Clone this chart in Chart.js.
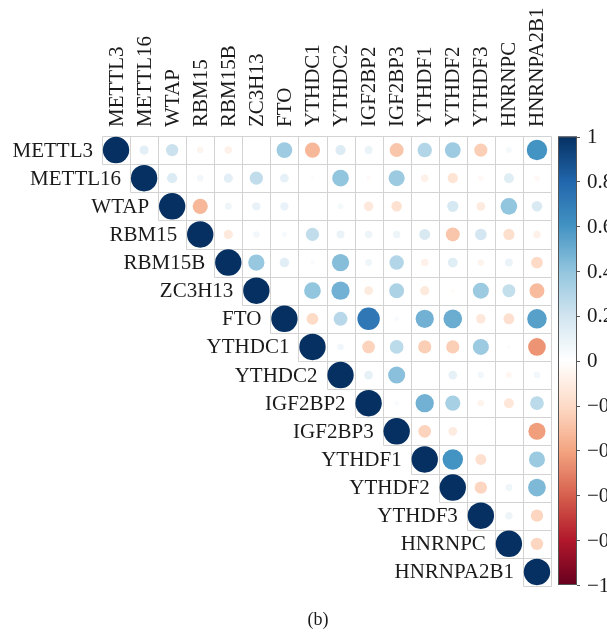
<!DOCTYPE html>
<html>
<head>
<meta charset="utf-8">
<script src="https://cdn.jsdelivr.net/npm/chart.js@4.4.1/dist/chart.umd.min.js"></script>
<style>
  html, body { margin: 0; padding: 0; background: #ffffff; }
  #wrap { width: 607px; height: 637px; position: relative; }
</style>
</head>
<body>
<div id="wrap"><canvas id="c"></canvas></div>
<script>
// Gene names (row and column order)
const genes = ['METTL3', 'METTL16', 'WTAP', 'RBM15', 'RBM15B', 'ZC3H13', 'FTO', 'YTHDC1',
  'YTHDC2', 'IGF2BP2', 'IGF2BP3', 'YTHDF1', 'YTHDF2', 'YTHDF3', 'HNRNPC', 'HNRNPA2B1'];

// Upper-triangle correlations, each row starting at its diagonal
const r_METTL3    = [1, 0.12, 0.22, -0.06, -0.08, 0.01, 0.36, -0.33, 0.15, 0.09, -0.28, 0.30, 0.36, -0.25, 0.05, 0.60];
const r_METTL16   = [1, 0.15, 0.06, 0.12, 0.25, 0.11, 0.02, 0.40, -0.03, 0.37, -0.08, -0.15, -0.04, 0.14, -0.04];
const r_WTAP      = [1, -0.33, 0.07, 0.10, 0.10, -0.01, 0.05, -0.13, -0.16, 0.01, 0.18, -0.11, 0.40, 0.16];
const r_RBM15     = [1, -0.12, 0.06, 0.04, 0.25, 0.09, 0.08, 0.08, 0.17, -0.28, 0.19, -0.18, -0.08];
const r_RBM15B    = [1, 0.38, 0.13, 0.03, 0.43, 0.07, 0.30, -0.08, 0.14, -0.06, 0.09, -0.20];
const r_ZC3H13    = [1, 0.01, 0.40, 0.48, -0.11, 0.32, -0.12, -0.02, 0.37, 0.24, -0.32];
const r_FTO       = [1, -0.20, 0.28, 0.72, 0.03, 0.48, 0.50, -0.13, -0.17, 0.55];
const r_YTHDC1    = [1, 0.06, -0.23, 0.27, -0.25, -0.25, 0.37, 0.02, -0.45];
const r_YTHDC2    = [1, 0.11, 0.42, 0.01, 0.11, 0.06, -0.05, 0.06];
const r_IGF2BP2   = [1, 0.03, 0.48, 0.33, -0.06, -0.14, 0.27];
const r_IGF2BP3   = [1, -0.23, -0.11, -0.01, 0.01, -0.42];
const r_YTHDF1    = [1, 0.60, -0.17, 0.01, 0.37];
const r_YTHDF2    = [1, -0.22, 0.07, 0.45];
const r_YTHDF3    = [1, 0.08, -0.22];
const r_HNRNPC    = [1, -0.22];
const r_HNRNPA2B1 = [1];

const corrRows = [r_METTL3, r_METTL16, r_WTAP, r_RBM15, r_RBM15B, r_ZC3H13, r_FTO, r_YTHDC1,
  r_YTHDC2, r_IGF2BP2, r_IGF2BP3, r_YTHDF1, r_YTHDF2, r_YTHDF3, r_HNRNPC, r_HNRNPA2B1];

// Colour-bar tick labels
const legendTicks = [1, 0.8, 0.6, 0.4, 0.2, 0, -0.2, -0.4, -0.6, -0.8, -1];
const legendLabels = ['1', '0.8', '0.6', '0.4', '0.2', '0', '\u22120.2', '\u22120.4', '\u22120.6', '\u22120.8', '\u22121'];

// Diverging red-white-blue palette, from -1 to 1
const palette = ['#67001F', '#B2182B', '#D6604D', '#F4A582', '#FDDBC7', '#FFFFFF',
  '#D1E5F0', '#92C5DE', '#4393C3', '#2166AC', '#053061'];

function hexToRgb(h) {
  return [parseInt(h.slice(1, 3), 16), parseInt(h.slice(3, 5), 16), parseInt(h.slice(5, 7), 16)];
}
function colorFor(v) {
  const t = (Math.max(-1, Math.min(1, v)) + 1) / 2 * (palette.length - 1);
  const i = Math.min(Math.floor(t), palette.length - 2);
  const f = t - i;
  const a = hexToRgb(palette[i]), b = hexToRgb(palette[i + 1]);
  const c = a.map((x, k) => Math.round(x + (b[k] - x) * f));
  return `rgb(${c[0]},${c[1]},${c[2]})`;
}

// Build point list for the upper triangle
const points = [];
corrRows.forEach((row, i) => {
  row.forEach((v, k) => {
    points.push({ x: i + k, y: i, v: v });
  });
});

const FONT = '"Liberation Serif", "DejaVu Serif", serif';

function circleRadius(ctx) {
  const raw = ctx.raw;
  if (!raw) return 0;
  const xs = ctx.chart.scales.x;
  const cell = xs.getPixelForValue(1) - xs.getPixelForValue(0);
  return Math.sqrt(Math.abs(raw.v)) * cell * 0.47;
}

// Grid cells, labels and colour bar
const corrDecor = {
  id: 'corrDecor',
  beforeDatasetsDraw(chart) {
    const { ctx, scales: { x, y } } = chart;
    const n = genes.length;
    const ex = k => Math.round(x.getPixelForValue(k - 0.5)) + 0.5;
    const ey = k => Math.round(y.getPixelForValue(k - 0.5)) + 0.5;
    ctx.save();
    ctx.strokeStyle = '#d3d3d3';
    ctx.lineWidth = 1;
    ctx.beginPath();
    // horizontal edges: line k spans from column max(0,k-1) to the right end
    for (let k = 0; k <= n; k++) {
      const c0 = Math.max(0, k - 1);
      ctx.moveTo(ex(c0), ey(k));
      ctx.lineTo(ex(n), ey(k));
    }
    // vertical edges: line k spans from the top to row min(k, n)
    for (let k = 0; k <= n; k++) {
      const r1 = Math.min(k + 1, n);
      ctx.moveTo(ex(k), ey(0));
      ctx.lineTo(ex(k), ey(r1));
    }
    ctx.stroke();
    ctx.restore();
  },
  afterDatasetsDraw(chart) {
    const { ctx, scales: { x, y }, chartArea } = chart;
    ctx.save();
    ctx.fillStyle = '#1a1a1a';
    ctx.font = '21px ' + FONT;

    // column labels on top, rotated
    const topY = y.getPixelForValue(-0.5);
    genes.forEach((g, j) => {
      ctx.save();
      ctx.translate(x.getPixelForValue(j), topY - 9);
      ctx.rotate(-Math.PI / 2);
      ctx.textAlign = 'left';
      ctx.textBaseline = 'middle';
      ctx.fillText(g, 0, 1);
      ctx.restore();
    });

    // row labels beside the diagonal
    ctx.textAlign = 'right';
    ctx.textBaseline = 'middle';
    genes.forEach((g, i) => {
      ctx.fillText(g, x.getPixelForValue(i - 0.5) - 9, y.getPixelForValue(i) + 1);
    });

    // colour bar
    const cbL = 558, cbW = 19;
    const cbTop = chartArea.top + 0.5, cbBot = chartArea.bottom - 1;
    const grad = ctx.createLinearGradient(0, cbBot, 0, cbTop);
    palette.forEach((c, k) => grad.addColorStop(k / (palette.length - 1), c));
    ctx.fillStyle = grad;
    ctx.fillRect(cbL, cbTop, cbW, cbBot - cbTop);
    ctx.strokeStyle = '#555555';
    ctx.lineWidth = 1;
    ctx.strokeRect(cbL + 0.5, cbTop + 0.5, cbW - 1, cbBot - cbTop - 1);

    ctx.fillStyle = '#1a1a1a';
    ctx.textAlign = 'left';
    ctx.textBaseline = 'middle';
    ctx.font = '21px ' + FONT;
    legendTicks.forEach((v, k) => {
      const py = cbBot - (v + 1) / 2 * (cbBot - cbTop);
      ctx.beginPath();
      ctx.moveTo(cbL + cbW, Math.round(py) + 0.5);
      ctx.lineTo(cbL + cbW + 3, Math.round(py) + 0.5);
      ctx.strokeStyle = '#555555';
      ctx.stroke();
      ctx.fillText(legendLabels[k], 587, py + 1);
    });

    // panel tag
    ctx.textAlign = 'center';
    ctx.font = '18px ' + FONT;
    ctx.fillText('(b)', 318, 620);
    ctx.restore();
  }
};

new Chart(document.getElementById('c'), {
  type: 'scatter',
  data: {
    datasets: [{
      data: points,
      pointRadius: circleRadius,
      pointHoverRadius: circleRadius,
      pointBackgroundColor(ctx) { return ctx.raw ? colorFor(ctx.raw.v) : '#fff'; },
      pointBorderWidth: 0,
      pointBorderColor: 'rgba(0,0,0,0)'
    }]
  },
  options: {
    responsive: true,
    maintainAspectRatio: false,
    animation: false,
    events: [],
    layout: { padding: { left: 102, top: 136, right: 56, bottom: 51 } },
    plugins: { legend: { display: false }, tooltip: { enabled: false } },
    scales: {
      x: { type: 'linear', min: -0.5, max: 15.5, display: false },
      y: { type: 'linear', min: -0.5, max: 15.5, reverse: true, display: false }
    }
  },
  plugins: [corrDecor]
});
</script>
</body>
</html>
